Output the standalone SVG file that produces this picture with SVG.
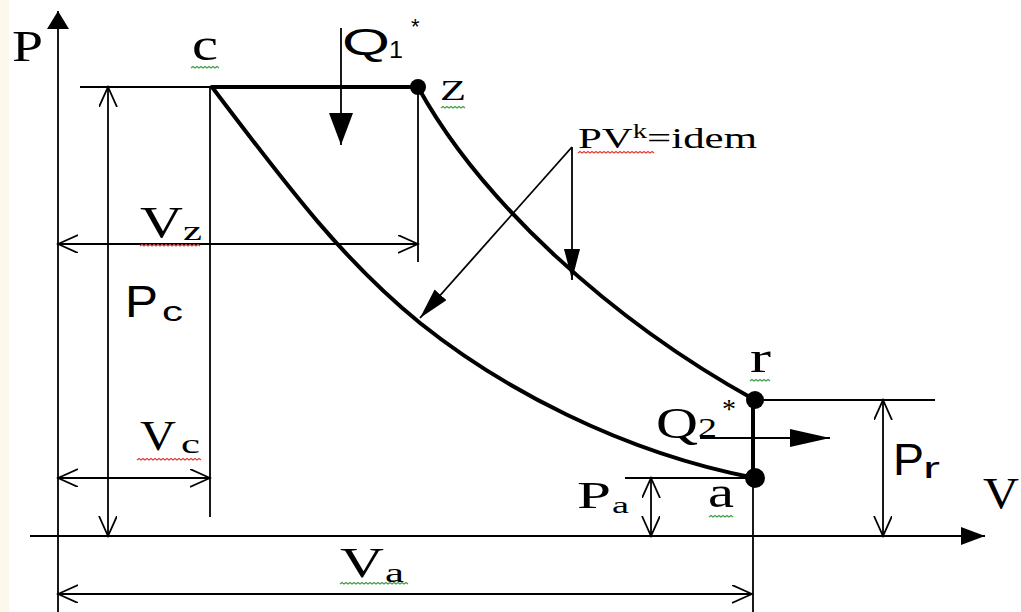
<svg xmlns="http://www.w3.org/2000/svg" width="1021" height="612" viewBox="0 0 1021 612">
<style>
.thin{stroke:#000;stroke-width:1.8;fill:none}
.thick{stroke:#000;stroke-width:4;fill:none;stroke-linecap:round}
.serif{font-family:"Liberation Serif","Times New Roman",serif;fill:#000}
.sans{font-family:"Liberation Sans",Arial,sans-serif;fill:#000}
.sqr{stroke:#e0403a;stroke-width:1.2;fill:none}
.sqg{stroke:#3fa046;stroke-width:1.2;fill:none}
.dot{fill:#000}
</style>
<defs>
<marker id="open" markerUnits="userSpaceOnUse" viewBox="0 0 22 20" markerWidth="22" markerHeight="20" refX="20" refY="9" orient="auto-start-reverse">
<path d="M0,0 L20,9 L0,18" stroke="#000" stroke-width="1.8" fill="none"/>
</marker>
<marker id="fillQ1" markerUnits="userSpaceOnUse" viewBox="0 0 34 24" markerWidth="34" markerHeight="24" refX="32" refY="12" orient="auto">
<path d="M0,0 L32,12 L0,24 z" fill="#000"/>
</marker>
<marker id="fillQ2" markerUnits="userSpaceOnUse" viewBox="0 0 42 20" markerWidth="42" markerHeight="20" refX="40" refY="9" orient="auto">
<path d="M0,0 L40,9 L0,18 z" fill="#000"/>
</marker>
<marker id="fillPV" markerUnits="userSpaceOnUse" viewBox="0 0 33 18" markerWidth="33" markerHeight="18" refX="31" refY="8" orient="auto">
<path d="M0,0 L31,8 L0,16 z" fill="#000"/>
</marker>
<marker id="axisP" markerUnits="userSpaceOnUse" viewBox="0 0 20 24" markerWidth="20" markerHeight="24" refX="18" refY="11" orient="auto">
<path d="M0,0 L18,11 L0,22 z" fill="#000"/>
</marker>
<marker id="axisV" markerUnits="userSpaceOnUse" viewBox="0 0 26 20" markerWidth="26" markerHeight="20" refX="24" refY="9" orient="auto">
<path d="M0,0 L24,9 L0,18 z" fill="#000"/>
</marker>
</defs>
<rect x="0" y="0" width="1021" height="612" fill="#fff"/>
<rect x="0" y="0" width="9" height="612" fill="#fcf9ec"/>

<g id="axes">
<line class="thin" x1="58" y1="612" x2="58" y2="11" marker-end="url(#axisP)"/>
<line class="thin" x1="30" y1="536" x2="985" y2="536" marker-end="url(#axisV)"/>
<text class="serif" x="12" y="61" font-size="45" textLength="31" lengthAdjust="spacingAndGlyphs">P</text>
<text class="serif" x="983" y="508" font-size="45" textLength="36" lengthAdjust="spacingAndGlyphs">V</text>
</g>

<g id="guides">
<line class="thin" x1="80" y1="87" x2="212" y2="87"/>
<line class="thin" x1="210" y1="87" x2="210" y2="517"/>
<line class="thin" x1="418" y1="87" x2="418" y2="262"/>
<line class="thin" x1="753" y1="478" x2="753" y2="612"/>
<line class="thin" x1="625" y1="478" x2="755" y2="478"/>
<line class="thin" x1="755" y1="400" x2="935" y2="400"/>
</g>

<g id="dimensions">
<line class="thin" x1="108" y1="87" x2="108" y2="536" marker-start="url(#open)" marker-end="url(#open)"/>
<line class="thin" x1="58" y1="244" x2="418" y2="244" marker-start="url(#open)" marker-end="url(#open)"/>
<line class="thin" x1="58" y1="478" x2="210" y2="478" marker-start="url(#open)" marker-end="url(#open)"/>
<line class="thin" x1="58" y1="594" x2="752" y2="594" marker-start="url(#open)" marker-end="url(#open)"/>
<line class="thin" x1="651" y1="478" x2="651" y2="536" marker-start="url(#open)" marker-end="url(#open)"/>
<line class="thin" x1="883" y1="400" x2="883" y2="536" marker-start="url(#open)" marker-end="url(#open)"/>
<text class="sans" x="125" y="317" font-size="44" textLength="33" lengthAdjust="spacingAndGlyphs">P</text>
<text class="sans" x="162" y="321" font-size="28" textLength="21" lengthAdjust="spacingAndGlyphs">c</text>
<text class="serif" x="140" y="237" font-size="44" textLength="43" lengthAdjust="spacingAndGlyphs">V</text>
<text class="serif" x="183" y="240" font-size="28" textLength="19" lengthAdjust="spacingAndGlyphs">z</text>
<path class="sqr" d="M140,246 l2,-1.5 2,1.5 2,-1.5 2,1.5 2,-1.5 2,1.5 2,-1.5 2,1.5 2,-1.5 2,1.5 2,-1.5 2,1.5 2,-1.5 2,1.5 2,-1.5 2,1.5 2,-1.5 2,1.5 2,-1.5 2,1.5 2,-1.5 2,1.5 2,-1.5 2,1.5 2,-1.5 2,1.5 2,-1.5 2,1.5 2,-1.5 2,1.5"/>
<text class="serif" x="140" y="450" font-size="42" textLength="36" lengthAdjust="spacingAndGlyphs">V</text>
<text class="serif" x="181" y="453" font-size="28" textLength="19" lengthAdjust="spacingAndGlyphs">c</text>
<path class="sqr" d="M137,460 l2,-1.5 2,1.5 2,-1.5 2,1.5 2,-1.5 2,1.5 2,-1.5 2,1.5 2,-1.5 2,1.5 2,-1.5 2,1.5 2,-1.5 2,1.5 2,-1.5 2,1.5 2,-1.5 2,1.5 2,-1.5 2,1.5 2,-1.5 2,1.5 2,-1.5 2,1.5 2,-1.5 2,1.5 2,-1.5 2,1.5 2,-1.5 2,1.5 2,-1.5 2,1.5"/>
<text class="serif" x="340" y="577" font-size="42" textLength="44" lengthAdjust="spacingAndGlyphs">V</text>
<text class="serif" x="385" y="582" font-size="28" textLength="19" lengthAdjust="spacingAndGlyphs">a</text>
<path class="sqg" d="M340,584 l2,-1.5 2,1.5 2,-1.5 2,1.5 2,-1.5 2,1.5 2,-1.5 2,1.5 2,-1.5 2,1.5 2,-1.5 2,1.5 2,-1.5 2,1.5 2,-1.5 2,1.5 2,-1.5 2,1.5 2,-1.5 2,1.5 2,-1.5 2,1.5 2,-1.5 2,1.5 2,-1.5 2,1.5 2,-1.5 2,1.5 2,-1.5 2,1.5 2,-1.5 2,1.5 2,-1.5 2,1.5"/>
<text class="serif" x="577" y="508" font-size="38" textLength="34" lengthAdjust="spacingAndGlyphs">P</text>
<text class="serif" x="612" y="513" font-size="24" textLength="17" lengthAdjust="spacingAndGlyphs">a</text>
<text class="sans" x="893" y="475" font-size="45" textLength="31" lengthAdjust="spacingAndGlyphs">P</text>
<text class="sans" x="923" y="478" font-size="30" textLength="17" lengthAdjust="spacingAndGlyphs">r</text>
</g>

<g id="connectors">
<path class="thick" d="M212,87 L418,87"/>
<path class="thick" d="M212,87 C292,193 345,262 420,323 C500,387 620,452 755,478"/>
<path class="thick" d="M418,87 C480,200 610,320 755,400"/>
<path class="thick" d="M753,400 L753,478"/>
<line class="thin" x1="341" y1="28" x2="341" y2="145" marker-end="url(#fillQ1)"/>
<line class="thin" x1="700" y1="438" x2="830" y2="438" marker-end="url(#fillQ2)"/>
<line class="thin" x1="572" y1="147" x2="572" y2="280" marker-end="url(#fillPV)"/>
<line class="thin" x1="572" y1="147" x2="420" y2="318" marker-end="url(#fillPV)"/>
</g>

<g id="node-c">
<text class="serif" x="192" y="60" font-size="46" textLength="26" lengthAdjust="spacingAndGlyphs">c</text>
<path class="sqg" d="M191,68 l2,-1.5 2,1.5 2,-1.5 2,1.5 2,-1.5 2,1.5 2,-1.5 2,1.5 2,-1.5 2,1.5 2,-1.5 2,1.5 2,-1.5 2,1.5"/>
</g>

<g id="node-z">
<circle class="dot" cx="418" cy="87" r="8"/>
<text class="serif" x="440" y="100" font-size="30" textLength="26" lengthAdjust="spacingAndGlyphs">Z</text>
<path class="sqg" d="M441,108 l2,-1.5 2,1.5 2,-1.5 2,1.5 2,-1.5 2,1.5 2,-1.5 2,1.5 2,-1.5 2,1.5 2,-1.5 2,1.5"/>
</g>

<g id="node-r">
<circle class="dot" cx="755" cy="400" r="9"/>
<text class="serif" x="750" y="372" font-size="44" textLength="21" lengthAdjust="spacingAndGlyphs">r</text>
<path class="sqg" d="M750,381 l2,-1.5 2,1.5 2,-1.5 2,1.5 2,-1.5 2,1.5 2,-1.5 2,1.5 2,-1.5 2,1.5"/>
</g>

<g id="node-a">
<circle class="dot" cx="755" cy="478" r="10"/>
<text class="serif" x="708" y="507" font-size="44" textLength="26" lengthAdjust="spacingAndGlyphs">a</text>
<path class="sqg" d="M709,517 l2,-1.5 2,1.5 2,-1.5 2,1.5 2,-1.5 2,1.5 2,-1.5 2,1.5 2,-1.5 2,1.5 2,-1.5 2,1.5"/>
</g>

<g id="label-Q1">
<text class="sans" x="342" y="55" font-size="36" textLength="48" lengthAdjust="spacingAndGlyphs">Q</text>
<text class="sans" x="389" y="58" font-size="24" textLength="14" lengthAdjust="spacingAndGlyphs">1</text>
<text class="sans" x="411" y="34" font-size="22">*</text>
</g>

<g id="label-Q2">
<text class="serif" x="656" y="438" font-size="44" textLength="42" lengthAdjust="spacingAndGlyphs">Q</text>
<text class="serif" x="698" y="437" font-size="28" textLength="19" lengthAdjust="spacingAndGlyphs">2</text>
<text class="serif" x="722" y="418" font-size="28">*</text>
</g>

<g id="label-PV">
<text class="serif" x="578" y="148" font-size="30" textLength="179" lengthAdjust="spacingAndGlyphs">PV<tspan font-size="20" dy="-10">k</tspan><tspan dy="10">=idem</tspan></text>
<path class="sqr" d="M578,153 l2,-1.5 2,1.5 2,-1.5 2,1.5 2,-1.5 2,1.5 2,-1.5 2,1.5 2,-1.5 2,1.5 2,-1.5 2,1.5 2,-1.5 2,1.5 2,-1.5 2,1.5 2,-1.5 2,1.5 2,-1.5 2,1.5 2,-1.5 2,1.5 2,-1.5 2,1.5 2,-1.5 2,1.5 2,-1.5 2,1.5 2,-1.5 2,1.5 2,-1.5 2,1.5 2,-1.5 2,1.5 2,-1.5 2,1.5 2,-1.5 2,1.5"/>
</g>
</svg>
